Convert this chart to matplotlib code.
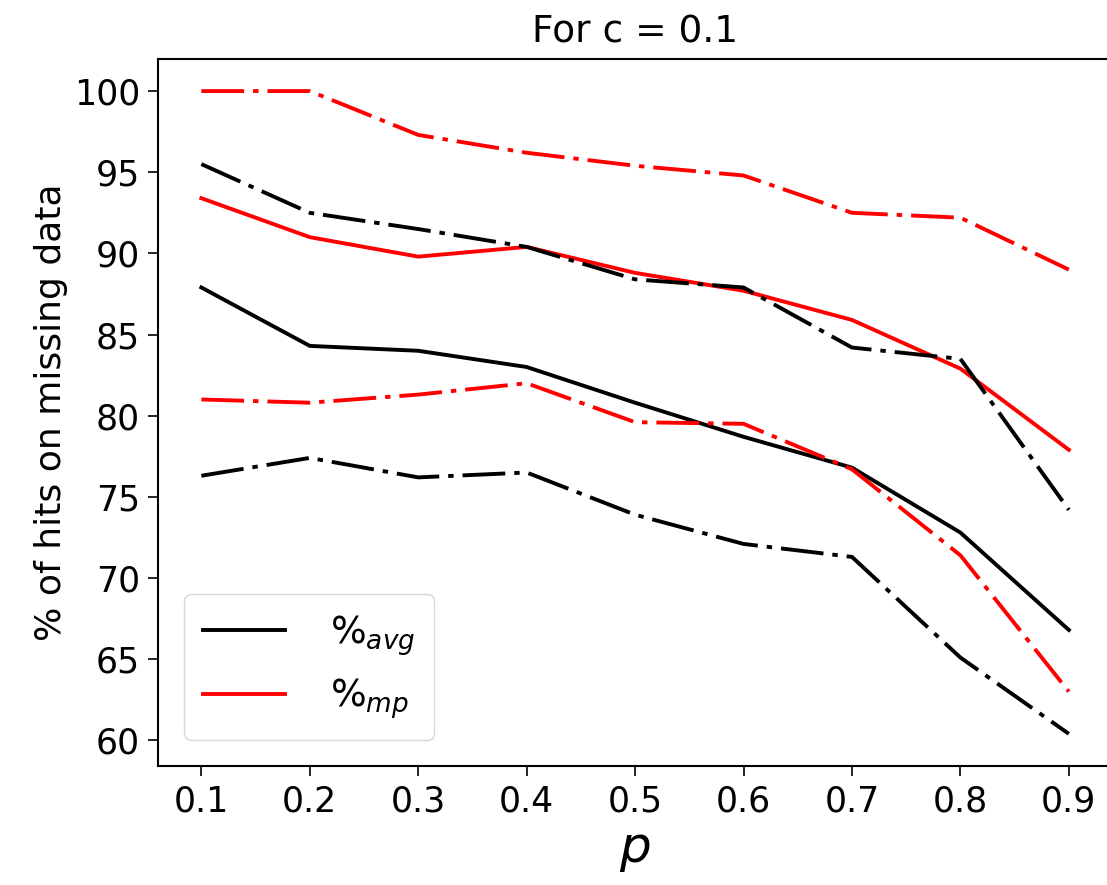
import matplotlib
matplotlib.use("Agg")
import matplotlib.pyplot as plt

p = [0.1, 0.2, 0.3, 0.4, 0.5, 0.6, 0.7, 0.8, 0.9]
avg = [87.9, 84.3, 84.0, 83.0, 80.8, 78.7, 76.8, 72.8, 66.8]
avg_hi = [95.5, 92.5, 91.5, 90.4, 88.4, 87.9, 84.2, 83.5, 74.2]
avg_lo = [76.3, 77.4, 76.2, 76.5, 73.9, 72.1, 71.3, 65.1, 60.4]
mp = [93.4, 91.0, 89.8, 90.4, 88.8, 87.7, 85.9, 82.9, 77.9]
mp_hi = [100.0, 100.0, 97.3, 96.2, 95.4, 94.8, 92.5, 92.2, 89.0]
mp_lo = [81.0, 80.8, 81.3, 82.0, 79.6, 79.5, 76.7, 71.4, 63.0]

dashdot = (0, (11, 2.3, 1.4, 2.3))

fig = plt.figure(figsize=(11.07, 8.85), dpi=100)
ax = fig.add_axes([0.1427, 0.1345, 0.862, 0.7989])

ax.plot(p, avg, color='black', lw=2.8, label='$\\%_{avg}$')
ax.plot(p, mp, color='red', lw=2.8, label='$\\%_{mp}$')
ax.plot(p, avg_hi, color='black', lw=2.8, linestyle=dashdot)
ax.plot(p, avg_lo, color='black', lw=2.8, linestyle=dashdot)
ax.plot(p, mp_hi, color='red', lw=2.8, linestyle=dashdot)
ax.plot(p, mp_lo, color='red', lw=2.8, linestyle=dashdot)

ax.set_xticks(p)
ax.set_yticks([60, 65, 70, 75, 80, 85, 90, 95, 100])
ax.tick_params(labelsize=25, length=7, width=1.2, pad=6)
for s in ax.spines.values():
    s.set_linewidth(1.5)

ax.set_title("For c = 0.1", fontsize=27, pad=12)
ax.set_xlabel("$p$", fontsize=36, labelpad=6)
ax.set_ylabel("% of hits on missing data", fontsize=26)
ax.legend(loc='lower left', fontsize=27, handlelength=2.2, borderpad=0.5,
          labelspacing=0.5, handletextpad=1.2, borderaxespad=0.7)

fig.savefig("out.png", dpi=100)
